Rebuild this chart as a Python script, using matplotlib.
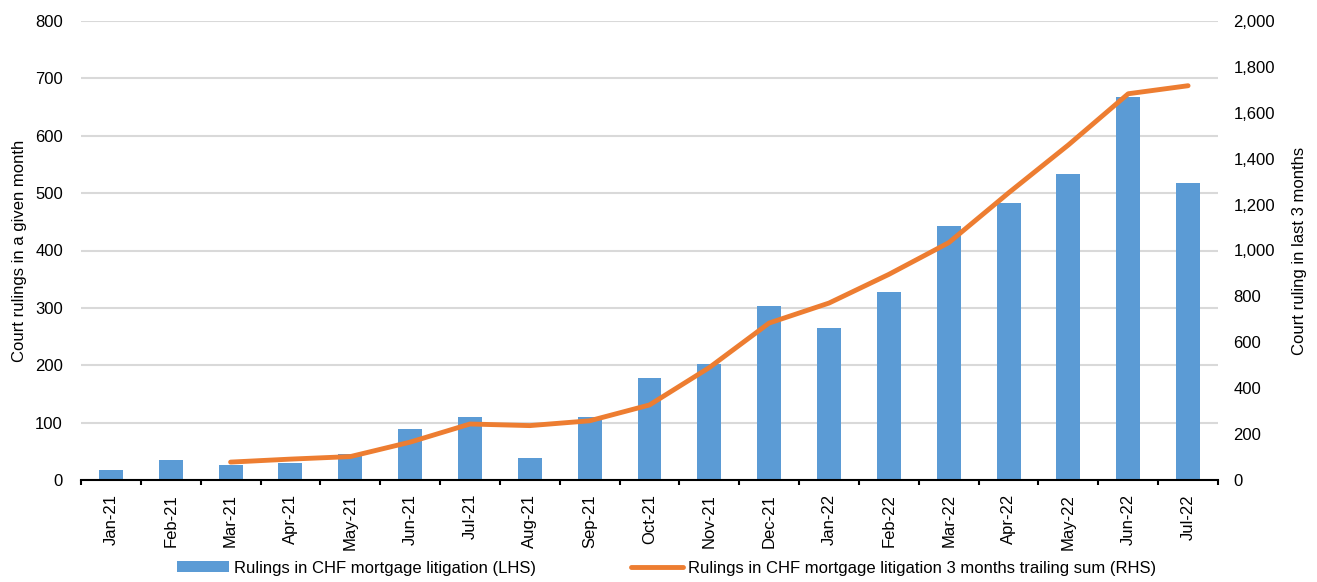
import matplotlib.pyplot as plt
from matplotlib.ticker import FuncFormatter
import numpy as np

plt.rcParams["font.family"] = ["Liberation Sans", "DejaVu Sans"]

months = ["Jan-21", "Feb-21", "Mar-21", "Apr-21", "May-21", "Jun-21", "Jul-21",
          "Aug-21", "Sep-21", "Oct-21", "Nov-21", "Dec-21", "Jan-22", "Feb-22",
          "Mar-22", "Apr-22", "May-22", "Jun-22", "Jul-22"]
monthly_rulings = [17, 35, 26, 30, 46, 89, 109, 39, 110, 178, 202, 304, 265, 327,
                   442, 482, 534, 667, 517]
# 3-month trailing sum, starts at Mar-21
trailing_sum = [None, None, 78, 91, 102, 165, 244, 237, 258, 327, 490, 684, 771,
                896, 1034, 1251, 1460, 1683, 1718]

BLUE = "#5b9bd5"
ORANGE = "#ed7d31"
GRID = "#d9d9d9"
FS = 12

fig, ax = plt.subplots(figsize=(13.17, 5.82), dpi=100)
fig.subplots_adjust(left=81 / 1317, right=1218 / 1317, top=1 - 21 / 582, bottom=1 - 480 / 582)
ax2 = ax.twinx()

x = np.arange(len(months))
bars = ax.bar(x, monthly_rulings, width=0.4, color=BLUE, zorder=2,
              label="Rulings in CHF mortgage litigation (LHS)")

line_x = [i for i, v in enumerate(trailing_sum) if v is not None]
line_y = [v for v in trailing_sum if v is not None]
line, = ax2.plot(line_x, line_y, color=ORANGE, lw=3.5, solid_capstyle="round", zorder=3,
                 label="Rulings in CHF mortgage litigation 3 months trailing sum (RHS)")

ax.set_xlim(-0.5, len(months) - 0.5)
ax.set_ylim(0, 800)
ax.set_yticks(range(0, 801, 100))
ax2.set_ylim(0, 2000)
ax2.set_yticks(range(0, 2001, 200))
ax2.yaxis.set_major_formatter(FuncFormatter(lambda v, p: f"{int(v):,}"))

ax.yaxis.grid(True, color=GRID, lw=1.5, zorder=0)
ax.set_axisbelow(True)

# category labels in the middle, tick marks between categories
ax.set_xticks(x)
ax.set_xticklabels(months, rotation=90, fontsize=FS)
ax.set_xticks(np.arange(-0.5, len(months), 1), minor=True)
ax.tick_params(axis="x", which="major", length=0, pad=10)
ax.tick_params(axis="x", which="minor", length=3.6, width=1.5, color="black")
ax.tick_params(axis="y", length=0, labelsize=FS, pad=13)
ax2.tick_params(axis="y", length=0, labelsize=FS, pad=11)

for a in (ax, ax2):
    for side in ("top", "left", "right"):
        a.spines[side].set_visible(False)
ax.spines["bottom"].set_linewidth(1.5)
ax2.spines["bottom"].set_visible(False)

ax.set_ylabel("Court rulings in a given month", fontsize=FS, labelpad=6)
ax2.set_ylabel("Court ruling in last 3 months", fontsize=FS, labelpad=12)

ax.set_zorder(ax2.get_zorder() - 1)
ax.patch.set_visible(False)
ax2.patch.set_visible(False)
fig.patch.set_facecolor("white")

fig.legend([bars, line], [bars.get_label(), line.get_label()], loc="center",
           bbox_to_anchor=(0.506, 1 - 568 / 582), ncol=2, frameon=False, fontsize=FS,
           handlelength=3.1, handleheight=0.65, handletextpad=0.3, columnspacing=5.7)

fig.savefig("out.png", dpi=100, facecolor="white")
